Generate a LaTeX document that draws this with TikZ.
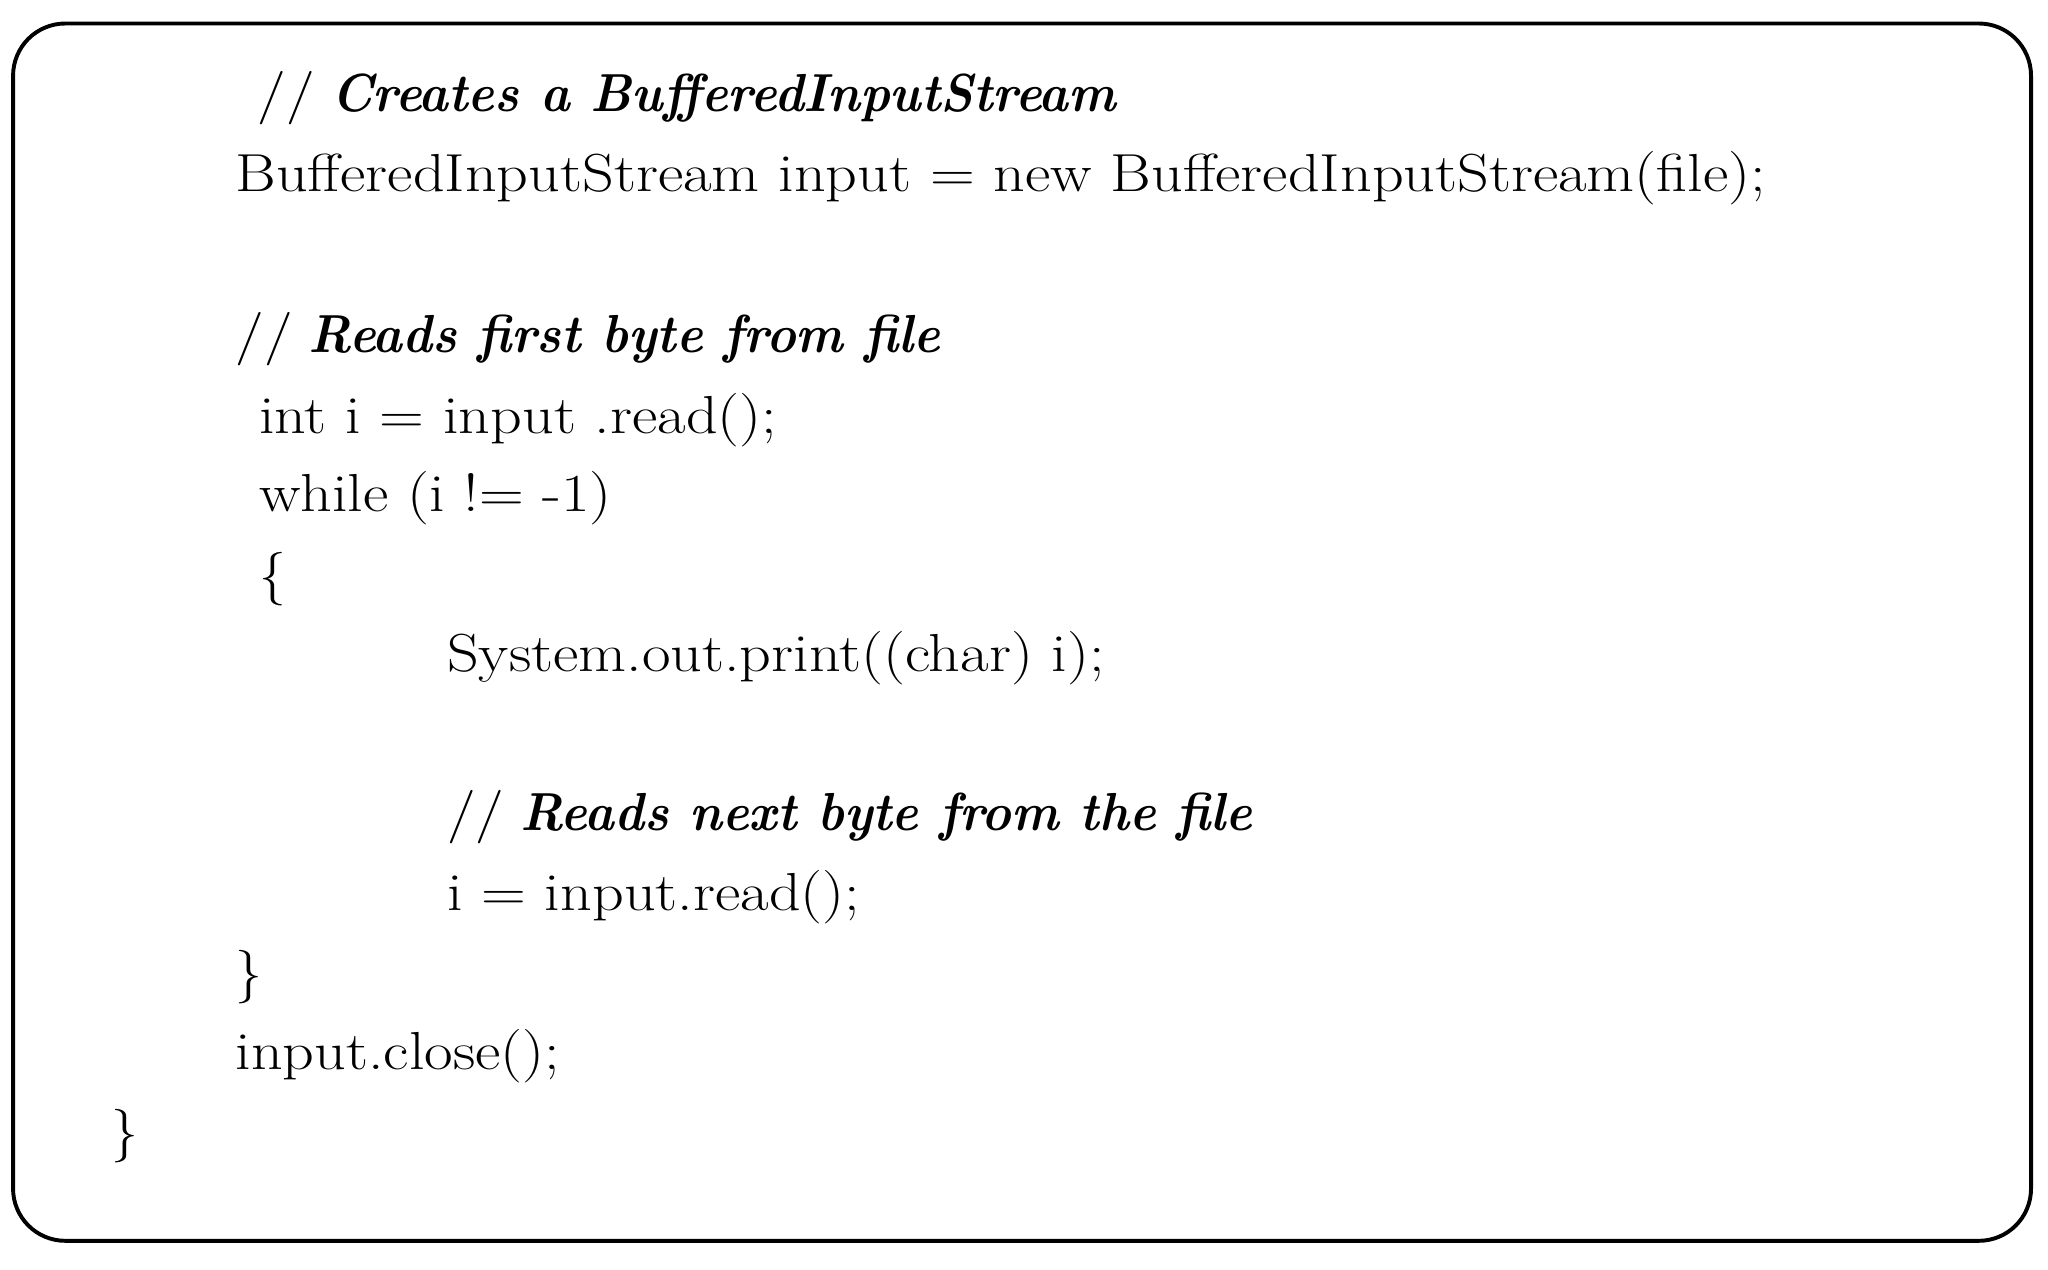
\documentclass[tikz,border=0pt]{standalone}
\usepackage{graphicx}
\newcommand{\rg}[1]{\scalebox{1.16}[1]{#1}}
\newcommand{\cm}[1]{\scalebox{0.94}[1]{\textbf{\textit{#1}}}}
\begin{document}
\begin{tikzpicture}[x=0.5pt,y=-0.5pt,
  code/.style={anchor=base west,inner sep=0pt,font=\fontsize{20.5}{24}\selectfont}]
\useasboundingbox (0,0) rectangle (1568,972);
\draw[line width=1.5pt,rounded corners=20pt] (10,18) rectangle (1555,950);
\node[code] (l1) at (197,85) {\rg{//} \cm{Creates a BufferedInputStream}};
\node[code] (l2) at (180,147) {\rg{BufferedInputStream input = new BufferedInputStream(file);}};
\node[code] (l3) at (180,270) {\rg{//} \cm{Reads first byte from file}};
\node[code] (l4) at (198,332) {\rg{int i = input .read();}};
\node[code] (l5) at (198,392) {\rg{while (i != -1)}};
\node[code] (l6) at (198,454) {\{};
\node[code] (l7) at (342,514) {\rg{System.out.print((char) i);}};
\node[code] (l8) at (342,636) {\rg{//} \cm{Reads next byte from the file}};
\node[code] (l9) at (342,697) {\rg{i = input.read();}};
\node[code] (l10) at (180,758) {\}};
\node[code] (l11) at (180,819) {\rg{input.close();}};
\node[code] (l12) at (85,880) {\}};
\end{tikzpicture}
\end{document}
